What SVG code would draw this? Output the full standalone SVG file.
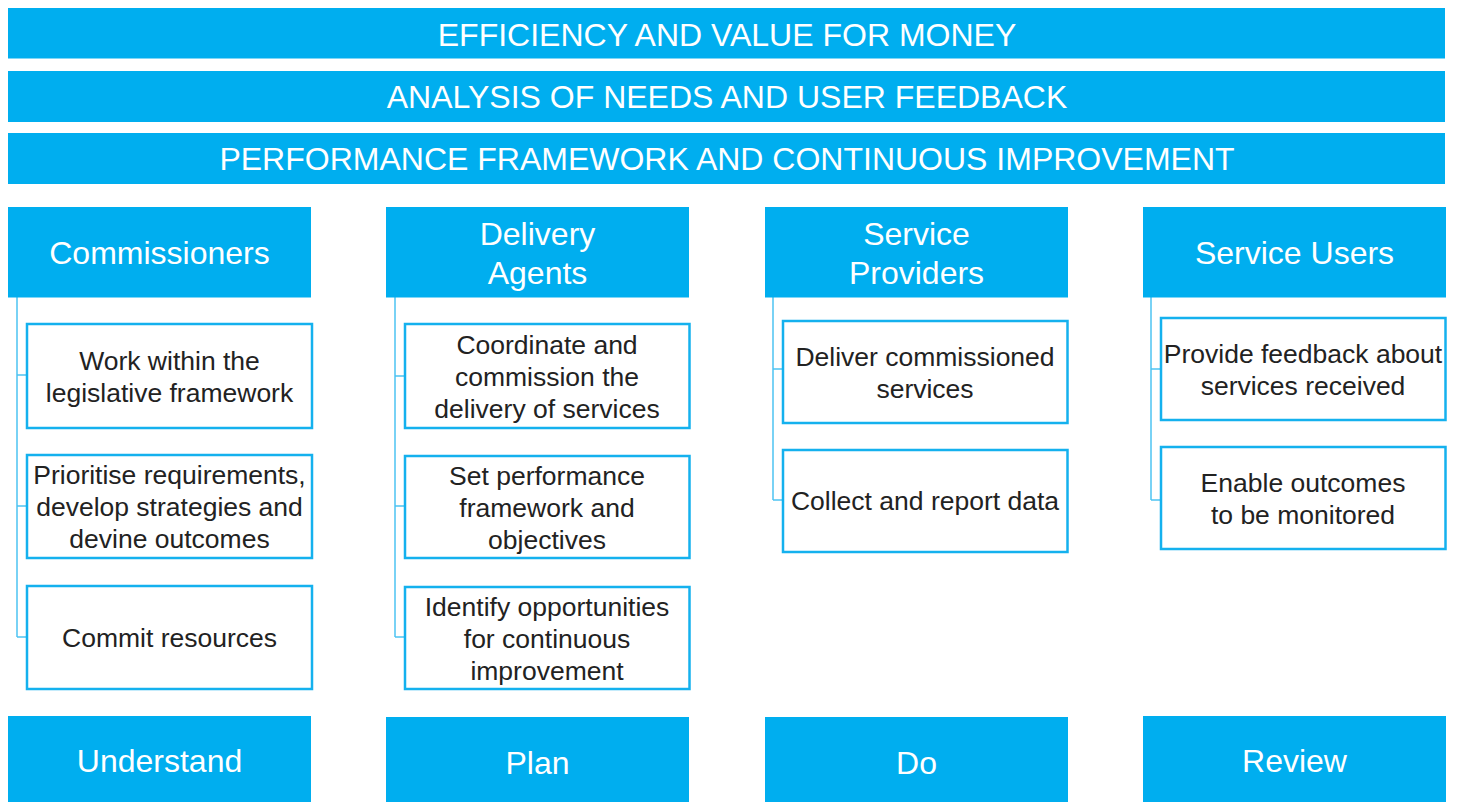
<svg xmlns="http://www.w3.org/2000/svg" width="1458" height="802" viewBox="0 0 1458 802">
<style>
.bar{fill:#00AEEF}
.bt{font-family:"Liberation Sans",Arial,sans-serif;font-size:32px;fill:#fff;text-anchor:middle}
.box{fill:#fff;stroke:#14B1EE;stroke-width:2.5}
.ct{font-family:"Liberation Sans",Arial,sans-serif;font-size:26.5px;fill:#222;text-anchor:middle}
.tree{fill:none;stroke:#4DC3F2;stroke-width:1.5}
</style>
<rect width="1458" height="802" fill="#fff"/>
<g id="bar-efficiency"><rect class="bar" x="8" y="8" width="1437" height="50.5"/><text class="bt" x="727" y="46">EFFICIENCY AND VALUE FOR MONEY</text></g>
<g id="bar-analysis"><rect class="bar" x="8" y="71" width="1437" height="51"/><text class="bt" x="727" y="108">ANALYSIS OF NEEDS AND USER FEEDBACK</text></g>
<g id="bar-performance"><rect class="bar" x="8" y="133" width="1437" height="51"/><text class="bt" x="727" y="170">PERFORMANCE FRAMEWORK AND CONTINUOUS IMPROVEMENT</text></g>

<g id="connectors">
<path class="tree" d="M17 297V637M17 375H26M17 506H26M17 637H26"/>
<path class="tree" d="M395 297V637M395 376H404M395 506H404M395 637H404"/>
<path class="tree" d="M773 297V500M773 369H782M773 500H782"/>
<path class="tree" d="M1151 297V500M1151 369H1160M1151 500H1160"/>
</g>

<g id="h-commissioners"><rect class="bar" x="8" y="207" width="303" height="90.5"/><text class="bt" x="159.5" y="264">Commissioners</text></g>
<g id="h-delivery"><rect class="bar" x="386" y="207" width="303" height="90.5"/><text class="bt" x="537.5" y="245">Delivery</text><text class="bt" x="537.5" y="284">Agents</text></g>
<g id="h-providers"><rect class="bar" x="765" y="207" width="303" height="90.5"/><text class="bt" x="916.5" y="245">Service</text><text class="bt" x="916.5" y="284">Providers</text></g>
<g id="h-users"><rect class="bar" x="1143" y="207" width="303" height="90.5"/><text class="bt" x="1294.5" y="264">Service Users</text></g>

<g id="c1"><rect class="box" x="27" y="324" width="285" height="104"/><text class="ct" x="169.5" y="370">Work within the</text><text class="ct" x="169.5" y="402">legislative framework</text></g>
<g id="c2"><rect class="box" x="27" y="455" width="285" height="103"/><text class="ct" x="169.5" y="484">Prioritise requirements,</text><text class="ct" x="169.5" y="516">develop strategies and</text><text class="ct" x="169.5" y="548">devine outcomes</text></g>
<g id="c3"><rect class="box" x="27" y="586" width="285" height="103"/><text class="ct" x="169.5" y="647">Commit resources</text></g>

<g id="d1"><rect class="box" x="405" y="324" width="284.5" height="104"/><text class="ct" x="547" y="354">Coordinate and</text><text class="ct" x="547" y="386">commission the</text><text class="ct" x="547" y="418">delivery of services</text></g>
<g id="d2"><rect class="box" x="405" y="456" width="284.5" height="102"/><text class="ct" x="547" y="485">Set performance</text><text class="ct" x="547" y="517">framework and</text><text class="ct" x="547" y="549">objectives</text></g>
<g id="d3"><rect class="box" x="405" y="587" width="284.5" height="102"/><text class="ct" x="547" y="616">Identify opportunities</text><text class="ct" x="547" y="648">for continuous</text><text class="ct" x="547" y="680">improvement</text></g>

<g id="p1"><rect class="box" x="783" y="321" width="284.5" height="102"/><text class="ct" x="925" y="366">Deliver commissioned</text><text class="ct" x="925" y="398">services</text></g>
<g id="p2"><rect class="box" x="783" y="450" width="284.5" height="102"/><text class="ct" x="925" y="510">Collect and report data</text></g>

<g id="u1"><rect class="box" x="1161" y="318" width="284.5" height="102"/><text class="ct" x="1303" y="363">Provide feedback about</text><text class="ct" x="1303" y="395">services received</text></g>
<g id="u2"><rect class="box" x="1161" y="447" width="284.5" height="102"/><text class="ct" x="1303" y="492">Enable outcomes</text><text class="ct" x="1303" y="524">to be monitored</text></g>

<g id="s-understand"><rect class="bar" x="8" y="716" width="303" height="86"/><text class="bt" x="159.5" y="772">Understand</text></g>
<g id="s-plan"><rect class="bar" x="386" y="717" width="303" height="85"/><text class="bt" x="537.5" y="774">Plan</text></g>
<g id="s-do"><rect class="bar" x="765" y="717" width="303" height="85"/><text class="bt" x="916.5" y="774">Do</text></g>
<g id="s-review"><rect class="bar" x="1143" y="716" width="303" height="86"/><text class="bt" x="1294.5" y="772">Review</text></g>
</svg>
